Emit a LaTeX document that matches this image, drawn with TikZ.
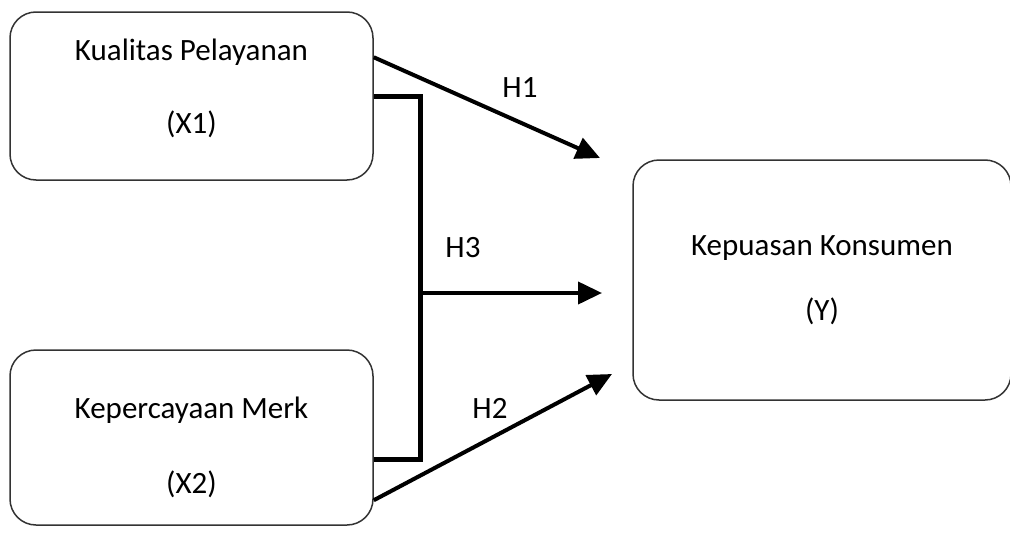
\documentclass[tikz,border=0pt]{standalone}
\usepackage{fontspec}
\setmainfont{Carlito}
\usetikzlibrary{arrows.meta}
\tikzset{
    %Define standard arrow tip
    >={Triangle[length=24pt,width=22pt]},
    %Define style for boxes
    kotak/.style={
           rectangle,
           rounded corners=26pt,
           draw=black!80, line width=1.5pt,
           align=center,
           font=\fontsize{31}{37}\selectfont},
    % Define arrow style
    panah/.style={
           ->,
           line width=4pt},
    % bracket joining both variables
    kurung/.style={
           line width=5pt,
           line join=miter},
    hlabel/.style={
           font=\fontsize{31}{37}\selectfont}
}

\begin{document}
\begin{tikzpicture}[x=1pt, y=-1pt]
	\useasboundingbox (0,0) rectangle (1010,538);
	%
	% noeuds
	%
	\node[kotak, minimum width=363pt, minimum height=168pt, text depth=19pt] (kualitas) at (191.5,96) {Kualitas Pelayanan\\[36pt](X1)};
	\node[kotak, minimum width=363pt, minimum height=175pt, text height=117pt] (kepercayaan) at (191.5,437.5) {Kepercayaan Merk\\[38pt](X2)};
	\node[kotak, minimum width=378pt, minimum height=240pt] (kepuasan) at (822,280) {Kepuasan Konsumen\\[28pt](Y)};
	\coordinate (siku) at (420,293);
	\coordinate (ujung1) at (600,158);
	\coordinate (ujung3) at (602,293);
	\coordinate (ujung2) at (612,374);
	%
	% Liens
	%
	\draw[kurung] (kualitas.east) -| (siku) |- (kepercayaan.-7.7);
	\draw[panah] (kualitas.12.7) -- (ujung1);
	\node[hlabel] (h1) at (520,88) {H1};
	\draw[panah] (siku) -- (ujung3);
	\node[hlabel] (h3) at (463,248) {H3};
	\draw[panah] (kepercayaan.-19) -- (ujung2);
	\node[hlabel] (h2) at (490,408) {H2};
\end{tikzpicture}
\end{document}
